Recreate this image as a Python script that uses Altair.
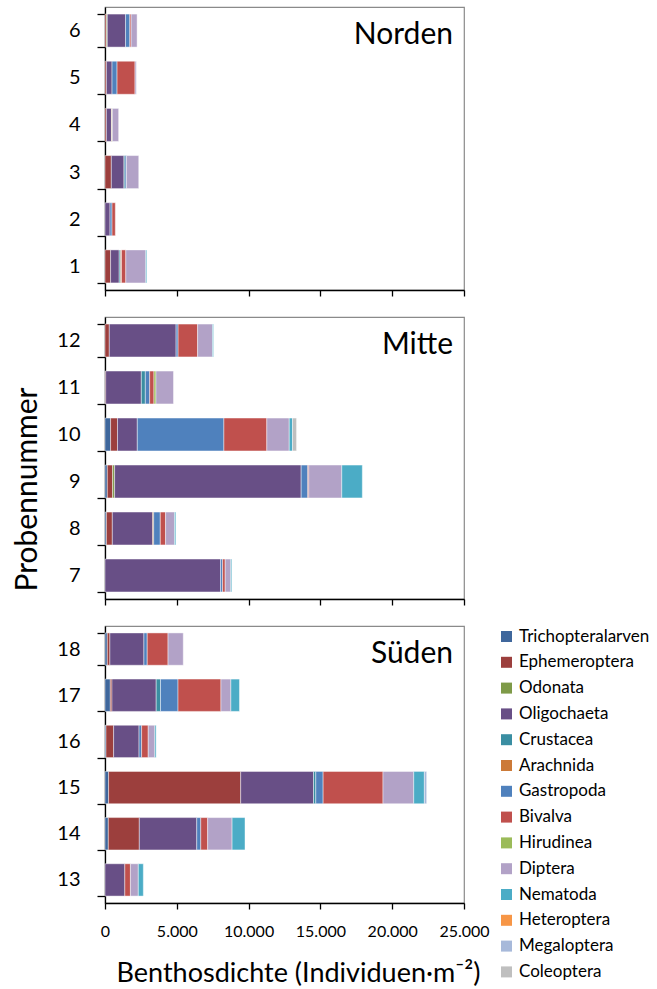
import altair as alt
import pandas as pd

FONT = "Lato"

# Sample numbers 1-18 and the river section each belongs to
samples = [str(i) for i in range(1, 19)]
regions = ["Norden"] * 6 + ["Mitte"] * 6 + ["Süden"] * 6

taxa = [
    "Trichopteralarven", "Ephemeroptera", "Odonata", "Oligochaeta",
    "Crustacea", "Arachnida", "Gastropoda", "Bivalva", "Hirudinea",
    "Diptera", "Nematoda", "Heteroptera", "Megaloptera", "Coleoptera",
]
taxa_colors = [
    "#3F679C", "#9C3F3D", "#7E9A48", "#684F86",
    "#3A8EA2", "#CC7A38", "#4F81BD", "#C0504D", "#9BBB59",
    "#B2A2C7", "#4BACC6", "#F79646", "#A7B9DA", "#BFBFBF",
]

# Benthos density per taxon (individuals per m², samples 1..18)
trichopteralarven = [0, 0, 0, 0, 0, 0, 0, 100, 160, 390, 0, 0, 0, 230, 250, 70, 370, 160]
ephemeroptera = [390, 0, 440, 100, 100, 100, 0, 410, 370, 480, 50, 300, 0, 2160, 9200, 530, 115, 180]
odonata = [0, 0, 0, 0, 0, 60, 0, 0, 140, 0, 0, 0, 0, 0, 0, 0, 0, 0]
oligochaeta = [600, 350, 880, 350, 390, 1270, 8050, 2810, 12990, 1380, 2480, 4650, 1380, 4000, 5070, 1770, 3080, 2370]
crustacea = [100, 0, 80, 0, 0, 0, 0, 0, 0, 0, 280, 0, 0, 0, 160, 0, 300, 0]
arachnida = [60, 0, 0, 30, 0, 0, 0, 70, 0, 0, 0, 0, 0, 0, 0, 0, 0, 0]
gastropoda = [0, 140, 100, 0, 350, 300, 140, 460, 460, 6030, 300, 140, 0, 280, 510, 180, 1220, 230]
bivalva = [300, 230, 0, 0, 1250, 90, 180, 370, 70, 2990, 300, 1360, 390, 480, 4170, 460, 2990, 1450]
hirudinea = [0, 0, 0, 30, 0, 0, 0, 0, 0, 0, 140, 0, 0, 0, 0, 0, 0, 0]
diptera = [1390, 0, 850, 440, 90, 415, 390, 620, 2300, 1560, 1220, 1035, 550, 1700, 2140, 460, 690, 1060]
nematoda = [70, 0, 0, 0, 0, 0, 70, 90, 1430, 230, 0, 70, 350, 900, 740, 90, 600, 0]
heteroptera = [0] * 18
megaloptera = [0, 0, 0, 0, 0, 0, 0, 0, 0, 0, 0, 0, 0, 0, 160, 0, 0, 0]
coleoptera = [0, 0, 0, 0, 0, 0, 0, 0, 0, 280, 0, 0, 0, 0, 0, 0, 0, 0]

series = [
    trichopteralarven, ephemeroptera, odonata, oligochaeta, crustacea,
    arachnida, gastropoda, bivalva, hirudinea, diptera, nematoda,
    heteroptera, megaloptera, coleoptera,
]

x_ticks = [0, 5000, 10000, 15000, 20000, 25000]

rows = []
for ti, (taxon, vals) in enumerate(zip(taxa, series)):
    for s, r, v in zip(samples, regions, vals):
        if v > 0:
            rows.append({"sample": s, "region": r, "taxon": taxon, "order": ti, "value": v})
df = pd.DataFrame(rows)

PLOT_W = 359


def panel(region, height, bottom=False, y_title=False, legend=False):
    sub = df[df["region"] == region]
    ids = [s for s, r in zip(samples, regions) if r == region]
    y_sort = list(reversed(ids))

    x_kwargs = dict(
        values=x_ticks,
        labels=bottom,
        tickSize=6,
        grid=False,
    )
    if bottom:
        x_axis = alt.Axis(
            labelExpr="replace(format(datum.value, ','), ',', '.')",
            labelFontSize=16,
            labelPadding=14,
            labelFlush=False,
            labelOverlap=False,
            title="Benthosdichte (Individuen·m⁻²)",
            titleFontSize=27,
            titleFontWeight="normal",
            titlePadding=21,
            titleX=193,
            **x_kwargs,
        )
    else:
        x_axis = alt.Axis(title=None, **x_kwargs)

    y_kwargs = dict(
        tickBand="extent",
        tickSize=8,
        labelFontSize=20,
        labelPadding=17,
        grid=False,
    )
    if y_title:
        y_axis = alt.Axis(
            title="Probennummer",
            titleFontSize=30,
            titleFontWeight="normal",
            titleX=-63,
            titleY=172,
            **y_kwargs,
        )
    else:
        y_axis = alt.Axis(title=None, **y_kwargs)

    if legend:
        leg = alt.Legend(
            title=None,
            orient="none",
            legendX=393,
            legendY=2,
            symbolType="square",
            symbolSize=121,
            symbolStrokeWidth=0,
            labelFontSize=17,
            labelOffset=4,
            labelLimit=220,
            rowPadding=7.8,
            padding=0,
        )
    else:
        leg = None

    bars = alt.Chart(sub).mark_bar(
        stroke="white", strokeWidth=0.8, strokeOpacity=0.55
    ).encode(
        x=alt.X("value:Q", stack="zero",
                scale=alt.Scale(domain=[0, 25000], nice=False, zero=True),
                axis=x_axis),
        y=alt.Y("sample:N", sort=y_sort,
                scale=alt.Scale(paddingInner=0.3, paddingOuter=0.15),
                axis=y_axis),
        color=alt.Color("taxon:N", scale=alt.Scale(domain=taxa, range=taxa_colors),
                        legend=leg),
        order=alt.Order("order:Q"),
    )

    name = alt.Chart(pd.DataFrame({"name": [region]})).mark_text(
        align="right", baseline="middle", fontSize=30, font=FONT, color="black"
    ).encode(
        text="name:N",
        x=alt.value(PLOT_W - 11),
        y=alt.value(28),
    )
    return alt.layer(bars, name).properties(width=PLOT_W, height=height)


top = panel("Norden", 283)
mid = panel("Mitte", 282, y_title=True)
bot = panel("Süden", 277, bottom=True, legend=True)

chart = alt.vconcat(top, mid, bot, spacing=27, bounds="flush").resolve_legend(
    color="independent"
).properties(
    padding={"left": 11, "top": -4, "right": 0, "bottom": 0}
).configure(
    font=FONT,
    background="white",
).configure_view(
    stroke="#8a8a8a",
    strokeWidth=1.2,
).configure_axis(
    domainColor="black",
    domainWidth=1.3,
    tickColor="black",
    tickWidth=1.3,
    labelColor="black",
    titleColor="black",
    labelFont=FONT,
    titleFont=FONT,
).configure_legend(
    labelFont=FONT,
    labelColor="black",
)

chart.save("out.html", embed_options={"renderer": "svg", "actions": False})
